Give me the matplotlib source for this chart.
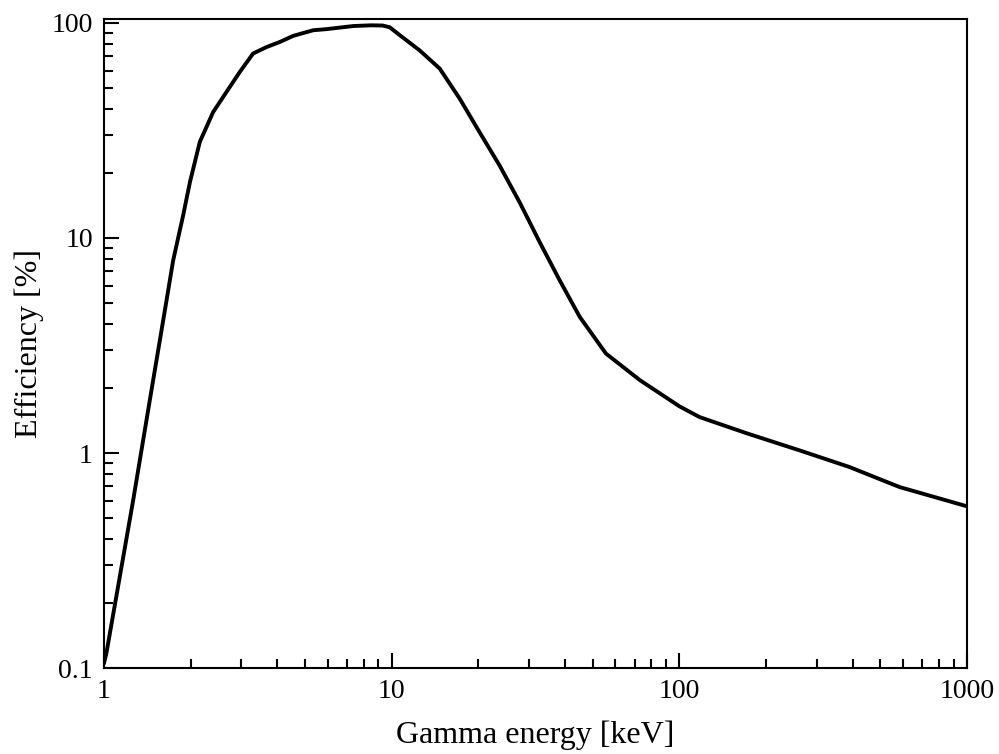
import numpy as np
import matplotlib.pyplot as plt
from matplotlib.ticker import FixedLocator, NullFormatter

plt.rcParams['font.family'] = ['Liberation Serif', 'DejaVu Serif']

# detector efficiency curve, read as (energy keV, efficiency %)
energy = [1.0, 1.02, 1.264, 1.444, 1.586, 1.651, 1.741, 1.887, 1.991, 2.155,
          2.397, 2.668, 2.968, 3.30, 3.68, 4.09, 4.55, 5.34, 5.94, 7.38,
          8.5, 9.3, 9.85, 10.68, 12.51, 14.69, 17.24, 20.2, 23.7, 27.9,
          32.7, 38.4, 45.1, 55.6, 73.0, 100, 117.5, 170, 261, 390, 582, 1000]
efficiency = [0.105, 0.117, 0.603, 1.76, 3.72, 5.13, 7.87, 12.8, 18.2, 28.0,
              38.5, 47.8, 59.2, 72.1, 77.3, 81.6, 87.1, 92.5, 93.6, 96.8,
              97.5, 97.3, 95.5, 87.7, 74.6, 61.4, 44.5, 31.1, 21.8, 14.6,
              9.57, 6.35, 4.29, 2.90, 2.18, 1.65, 1.47, 1.24, 1.03, 0.861, 0.695, 0.565]

xticks = [1, 10, 100, 1000]
xlabels = ['1', '10', '100', '1000']
yticks = [0.1, 1, 10, 100]
ylabels = ['0.1', '1', '10', '100']

fig = plt.figure(figsize=(9.99, 7.54), dpi=100)
ax = fig.add_axes([0.104, 0.114, 0.864, 0.861])

ax.plot(energy, efficiency, color='black', lw=2.8,
        solid_joinstyle='round', solid_capstyle='round')

ax.set_xscale('log')
ax.set_yscale('log')
ax.set_xlim(1, 1000)
ax.set_ylim(0.1, 104.5)

ax.set_xticks(xticks)
ax.set_xticklabels(xlabels)
ax.set_yticks(yticks)
ax.set_yticklabels(ylabels)
ax.xaxis.set_minor_locator(FixedLocator([m * d for d in (1, 10, 100) for m in range(2, 10)]))
ax.yaxis.set_minor_locator(FixedLocator([m * d for d in (0.1, 1, 10) for m in range(2, 10)]))
ax.xaxis.set_minor_formatter(NullFormatter())
ax.yaxis.set_minor_formatter(NullFormatter())

ax.tick_params(which='both', direction='in', top=False, right=False,
               width=1.5, labelsize=20, color='black')
ax.tick_params(which='major', length=11, pad=8)
ax.tick_params(which='minor', length=6.5)
for s in ax.spines.values():
    s.set_linewidth(1.5)

ax.set_xlabel('Gamma energy [keV]', fontsize=23, labelpad=12)
ax.set_ylabel('Efficiency [%]', fontsize=23, labelpad=5)

fig.savefig('out.png', dpi=100)
